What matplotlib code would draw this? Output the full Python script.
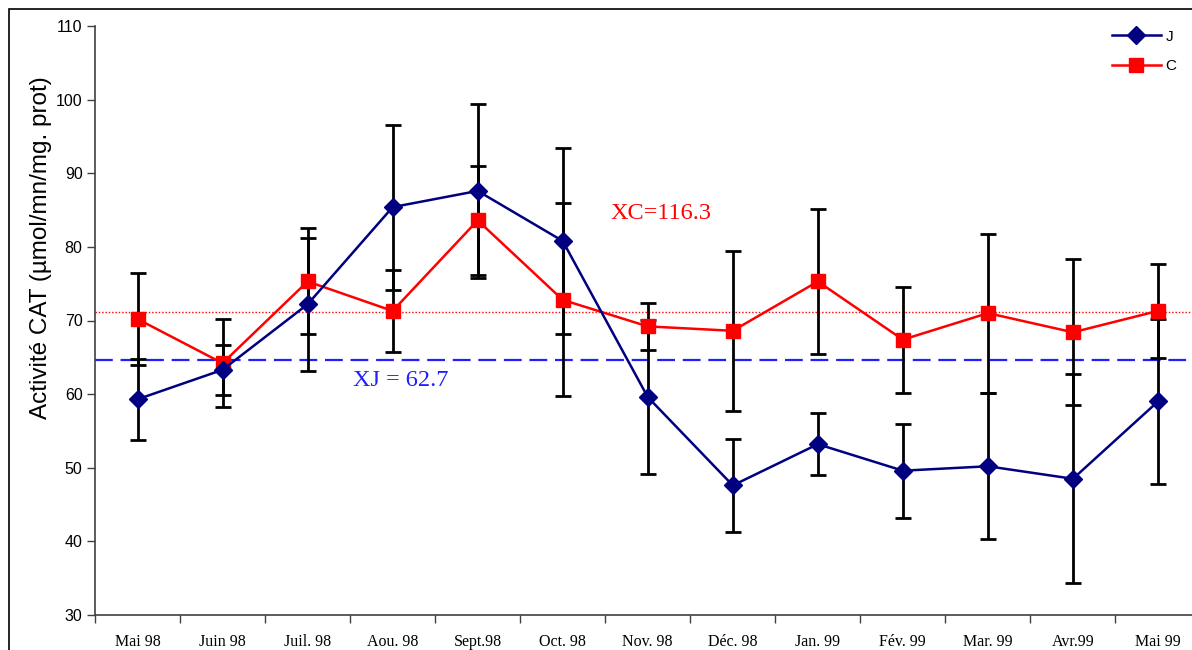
import numpy as np
import matplotlib
matplotlib.use("Agg")
import matplotlib.pyplot as plt
from matplotlib.patches import Rectangle

# ── data ────────────────────────────────────────────────────────────────────
months = ["Mai 98", "Juin 98", "Juil. 98", "Aou. 98", "Sept.98", "Oct. 98",
          "Nov. 98", "Déc. 98", "Jan. 99", "Fév. 99", "Mar. 99", "Avr.99", "Mai 99"]
j_mean = [59.3, 63.3, 72.2, 85.4, 87.6, 80.8, 59.6, 47.6, 53.2, 49.6, 50.2, 48.5, 59.0]
j_err = [5.5, 3.4, 9.0, 11.2, 11.8, 12.6, 10.5, 6.3, 4.2, 6.4, 9.9, 14.2, 11.2]
c_mean = [70.2, 64.2, 75.3, 71.3, 83.6, 72.8, 69.2, 68.6, 75.3, 67.4, 71.0, 68.4, 71.3]
c_err = [6.3, 6.0, 7.2, 5.6, 7.4, 13.1, 3.2, 10.9, 9.8, 7.2, 10.8, 9.9, 6.4]
xj_level = 64.7   # dashed mean line for J
xc_level = 71.2   # dotted mean line for C

NAVY = "#000080"
RED = "#ff0000"
BLUE = "#1f1fff"

fig = plt.figure(figsize=(11.92, 6.5), dpi=100)
ax = fig.add_axes([95 / 1192, 35 / 650, 1105.5 / 1192, 589 / 650])

x = np.arange(len(months))

# error bars below the series
ax.errorbar(x, j_mean, yerr=j_err, fmt="none", ecolor="black", elinewidth=2,
            capsize=5.5, capthick=2, zorder=2)
ax.errorbar(x, c_mean, yerr=c_err, fmt="none", ecolor="black", elinewidth=2,
            capsize=5.5, capthick=2, zorder=2)

ax.plot(x, j_mean, color=NAVY, lw=1.8, marker="D", ms=9.5, mfc=NAVY, mec=NAVY,
        zorder=4, label="J")
ax.plot(x, c_mean, color=RED, lw=1.8, marker="s", ms=10, mfc=RED, mec=RED,
        zorder=3, label="C")

ax.axhline(xj_level, color=BLUE, lw=1.6, dashes=(8, 3.5), zorder=1)
ax.axhline(xc_level, color=RED, lw=1.0, linestyle=(0, (1, 1.4)), zorder=1)

ax.text(3.09, 61.8, "XJ = 62.7", color=BLUE, fontsize=17.5,
        family="Liberation Serif", ha="center", va="center")
ax.text(6.15, 84.6, "XC=116.3", color=RED, fontsize=17.5,
        family="Liberation Serif", ha="center", va="center")

# axes styling (Excel-like)
ax.set_xlim(-0.5, len(months) - 0.5)
ax.set_ylim(30, 110)
ax.set_yticks(np.arange(30, 111, 10))
ax.set_xticks(x)
ax.set_xticklabels(months, family="Liberation Serif", fontsize=11.5)
ax.set_xticks(np.arange(-0.5, len(months)), minor=True)
ax.tick_params(axis="x", which="major", length=0, pad=14)
ax.tick_params(axis="x", which="minor", length=6, width=1, direction="out",
               color="#404040")
ax.tick_params(axis="y", length=6, width=1, direction="out", color="#404040",
               labelsize=11.5, pad=3)
for lab in ax.get_yticklabels():
    lab.set_family("Liberation Sans")
for side in ("top", "right"):
    ax.spines[side].set_visible(False)
for side in ("left", "bottom"):
    ax.spines[side].set_color("#404040")
    ax.spines[side].set_linewidth(1.2)

ax.set_ylabel("Activité CAT (µmol/mn/mg. prot)", family="Liberation Sans",
              fontsize=17.5)
ax.yaxis.set_label_coords(-0.039, 0.623)

leg = ax.legend(loc="upper right", bbox_to_anchor=(1190 / 1192, 1 - 16 / 650),
                bbox_transform=fig.transFigure, frameon=False,
                prop={"family": "Liberation Sans", "size": 11},
                handlelength=3.2, labelspacing=1.0, handletextpad=0.3)

# outer chart-area border
fig.patches.append(Rectangle((9 / 1192, -0.1), 1.2, 1 - 9 / 650 + 0.1,
                             transform=fig.transFigure, fill=False,
                             edgecolor="black", lw=1.2))

fig.savefig("out.png", dpi=100)
